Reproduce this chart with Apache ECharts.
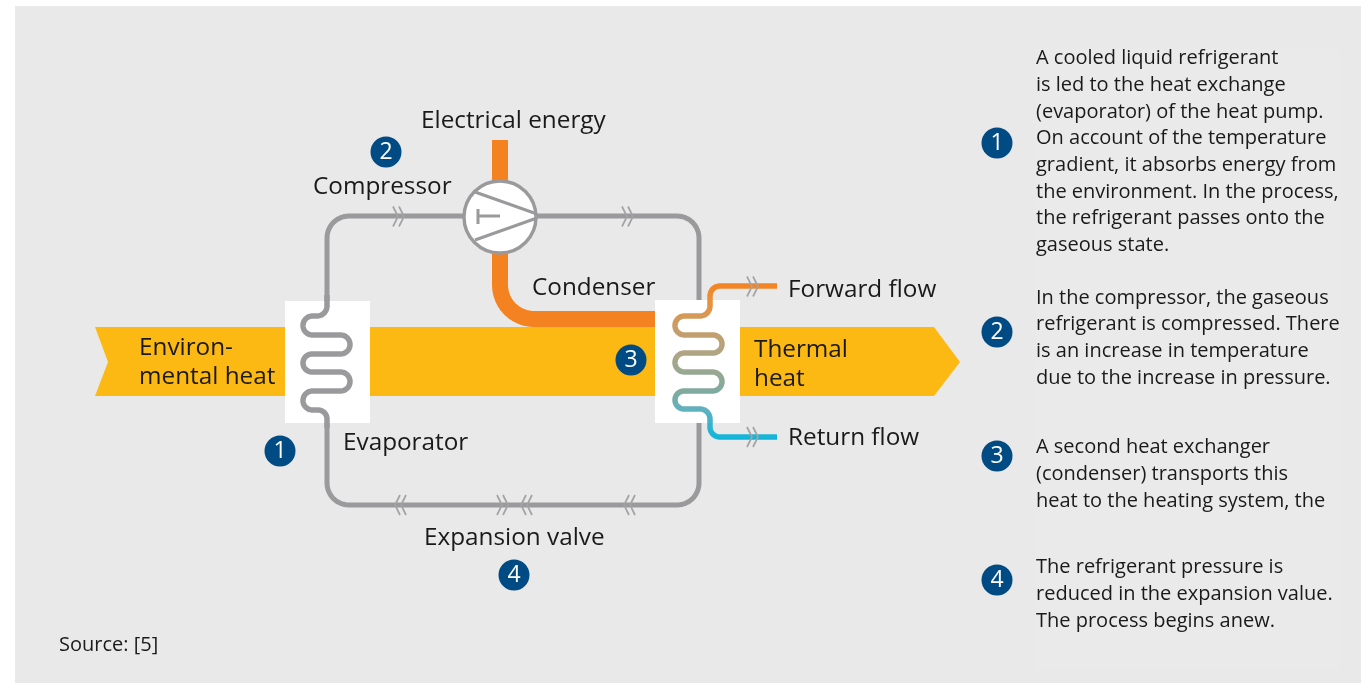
<!DOCTYPE html>
<html>
<head>
<meta charset="utf-8">
<title>Heat pump</title>
<script src="https://cdn.jsdelivr.net/npm/echarts@6/dist/echarts.min.js"></script>
<style>
html, body { margin: 0; padding: 0; background: #fff; }
#chart { width: 1361px; height: 683px; }
</style>
</head>
<body>
<div id="chart"></div>
<script>
// axis units are the picture's own pixels, y running downwards
var panel = [[15, 6], [1361, 6], [1361, 683], [15, 683]];
var notePanel = [[1036, 49], [1339, 49], [1339, 670], [1036, 670]];
var heatArrow = [[95, 327], [934, 327], [960, 362], [934, 396], [95, 396], [108, 362]];
var boxes = [[285, 301, 370, 423], [655, 300, 740, 423]];

var loopTop = [[327, 305], [327, 216], [699, 216], [699, 305]];
var loopBottom = [[327, 420], [327, 505], [699, 505], [699, 420]];
var evaporator = [[327, 295], [327, 316], [303, 316], [303, 335], [350, 335], [350, 354], [303, 354],
    [303, 372], [350, 372], [350, 391], [303, 391], [303, 410], [327, 410], [327, 428]];
var condenser = [[777, 286], [710, 286], [710, 316], [675, 316], [675, 335], [722, 335], [722, 353], [675, 353],
    [675, 372], [722, 372], [722, 391], [675, 391], [675, 409], [710, 409], [710, 437], [777, 437]];
var powerLine = [[500, 140], [500, 319], [655, 319]];

var compressorCentre = [500, 217];
var compressorBlades = [[[475, 192], [537, 214]], [[475, 240], [537, 218]]];
var compressorMark = [[[478, 209], [478, 224]], [[478, 216], [500, 216]]];

// x, y, direction of each double chevron
var chevrons = [[393, 216.5, 1], [622, 216.5, 1], [406, 505, -1], [497, 505, 1], [532, 505, -1], [635, 505, -1],
    [747, 286.5, 1], [747, 437, 1]];

var diagramLabels = [
    ['Electrical energy', 421, 121], ['Compressor', 313, 187], ['Condenser', 532, 288],
    ['Forward flow', 788, 290], ['Return flow', 788, 438], ['Environ-', 139, 348], ['mental heat', 139, 377],
    ['Thermal', 754, 350], ['heat', 754, 379], ['Evaporator', 343, 443], ['Expansion valve', 424, 538]
];
var noteLines = [
    ['A cooled liquid refrigerant', 58], ['is led to the heat exchange', 85], ['(evaporator) of the heat pump.', 112],
    ['On account of the temperature', 138], ['gradient, it absorbs energy from', 165],
    ['the environment. In the process,', 192], ['the refrigerant passes onto the', 218], ['gaseous state.', 245],
    ['In the compressor, the gaseous', 298], ['refrigerant is compressed. There', 324],
    ['is an increase in temperature', 351], ['due to the increase in pressure.', 378],
    ['A second heat exchanger', 447], ['(condenser) transports this', 474], ['heat to the heating system, the', 501],
    ['The refrigerant pressure is', 567], ['reduced in the expansion value.', 594], ['The process begins anew.', 621]
];
var badges = [[386, 152, '2'], [280, 451, '1'], [631, 360, '3'], [514, 575, '4'],
    [997, 143, '1'], [997, 332, '2'], [997, 456, '3'], [997, 580, '4']];

var GREY = '#9A9A9D', ORANGE = '#F58220', INK = '#1A1A1A', FONT = '"Open Sans", sans-serif';

// sample a rounded polyline, r is cut down where a segment is short
function roundPoints(pts, r) {
    var out = [pts[0]];
    for (var i = 1; i < pts.length - 1; i++) {
        var a = pts[i - 1], b = pts[i], c = pts[i + 1];
        var d1 = Math.hypot(a[0] - b[0], a[1] - b[1]);
        var d2 = Math.hypot(c[0] - b[0], c[1] - b[1]);
        var rr = Math.min(r, d1 / 2, d2 / 2);
        var p0 = [b[0] + (a[0] - b[0]) * rr / d1, b[1] + (a[1] - b[1]) * rr / d1];
        var p2 = [b[0] + (c[0] - b[0]) * rr / d2, b[1] + (c[1] - b[1]) * rr / d2];
        for (var t = 0; t <= 12; t++) {
            var k = t / 12 * Math.PI / 2;
            // quarter ellipse round the corner
            var u = 1 - Math.sin(k), v = 1 - Math.cos(k);
            out.push([b[0] + (p0[0] - b[0]) * u + (p2[0] - b[0]) * v, b[1] + (p0[1] - b[1]) * u + (p2[1] - b[1]) * v]);
        }
    }
    out.push(pts[pts.length - 1]);
    return out;
}

function pipe(api, pts, r, width, stroke) {
    return {
        type: 'polyline',
        shape: { points: roundPoints(pts.map(function(p) { return api.coord(p); }), r) },
        style: { stroke: stroke, lineWidth: width, fill: null, lineJoin: 'round' }
    };
}

function area(api, pts, fill) {
    return { type: 'polygon', shape: { points: pts.map(function(p) { return api.coord(p); }) }, style: { fill: fill } };
}

function label(api, text, x, y, size) {
    var p = api.coord([x, y]);
    return { type: 'text', x: p[0], y: p[1], style: { text: text, font: size + 'px ' + FONT, fill: INK, verticalAlign: 'middle' } };
}

function drawScene(params, api) {
    var children = [];
    children.push(area(api, panel, '#E9E9E9'));
    children.push(area(api, notePanel, '#EAEAEB'));
    children.push(area(api, heatArrow, '#FDB913'));
    children.push(pipe(api, loopTop, 22, 5, GREY));
    children.push(pipe(api, loopBottom, 22, 5, GREY));
    children.push(pipe(api, powerLine, 34, 16, ORANGE));
    boxes.forEach(function(b) {
        var p0 = api.coord([b[0], b[1]]), p1 = api.coord([b[2], b[3]]);
        children.push({ type: 'rect', shape: { x: p0[0], y: p0[1], width: p1[0] - p0[0], height: p1[1] - p0[1] }, style: { fill: '#fff' } });
    });
    children.push(pipe(api, evaporator, 10, 5.5, GREY));
    children.push(pipe(api, condenser, 10, 5.5, new echarts.graphic.LinearGradient(0, 0, 0, 1, [
        { offset: 0, color: ORANGE },
        { offset: 0.12, color: '#E7923A' },
        { offset: 0.22, color: '#D39A5A' },
        { offset: 0.45, color: '#AFA585' },
        { offset: 0.7, color: '#7DABA0' },
        { offset: 0.82, color: '#5DB2C2' },
        { offset: 1, color: '#0DB5DC' }
    ])));
    var c = api.coord(compressorCentre);
    children.push({ type: 'circle', shape: { cx: c[0], cy: c[1], r: 36 }, style: { fill: '#fff', stroke: GREY, lineWidth: 3.4 } });
    compressorBlades.concat(compressorMark).forEach(function(seg) {
        children.push(pipe(api, seg, 0, 3, GREY));
    });
    chevrons.forEach(function(ch) {
        for (var n = 0; n < 2; n++) {
            var x = ch[0] + n * 6 * ch[2];
            children.push({
                type: 'polyline',
                shape: { points: [api.coord([x, ch[1] - 10]), api.coord([x + 5 * ch[2], ch[1]]), api.coord([x, ch[1] + 10])] },
                style: { stroke: '#A3A3A5', lineWidth: 1.7, fill: null }
            });
        }
    });
    diagramLabels.forEach(function(l) {
        children.push(label(api, l[0], l[1], l[2], 24.3));
    });
    noteLines.forEach(function(l) {
        children.push(label(api, l[0], 1036, l[1], 20));
    });
    children.push(label(api, 'Source: [5]', 59, 645, 20));
    return { type: 'group', children: children };
}

var chart = echarts.init(document.getElementById('chart'));
chart.setOption({
    animation: false,
    grid: { left: 0, right: 0, top: 0, bottom: 0 },
    xAxis: { type: 'value', min: 0, max: 1361, show: false },
    yAxis: { type: 'value', min: 0, max: 683, inverse: true, show: false },
    series: [
        { type: 'custom', data: [[0, 0]], clip: false, silent: true, renderItem: drawScene, z: 1 },
        {
            type: 'scatter',
            data: badges,
            symbolSize: 31,
            itemStyle: { color: '#004B83', opacity: 1 },
            label: {
                show: true,
                position: 'inside',
                formatter: function(p) { return p.value[2]; },
                color: '#fff',
                fontFamily: FONT,
                fontSize: 23
            },
            z: 2
        }
    ]
});
</script>
</body>
</html>
